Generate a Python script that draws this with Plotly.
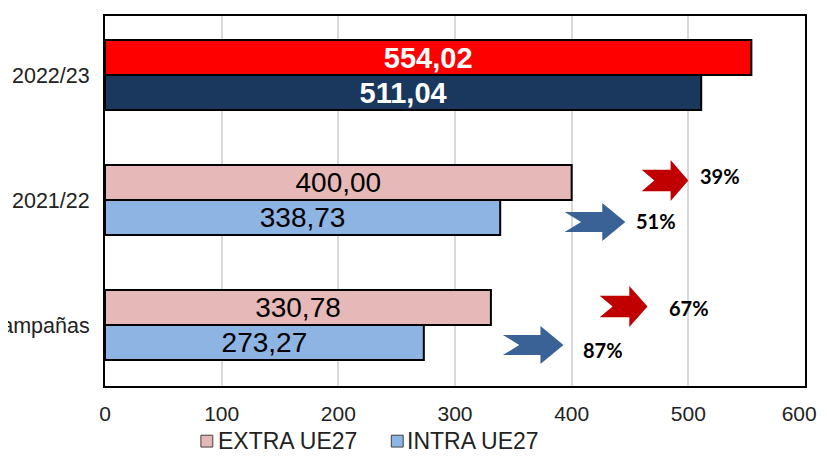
import plotly.graph_objects as go

# campaigns, bottom to top
campanas = ["Media 3 campañas", "2021/22", "2022/23"]
extra_ue27 = [330.78, 400.00, 554.02]
intra_ue27 = [273.27, 338.73, 511.04]
x_ticks = [0, 100, 200, 300, 400, 500, 600]
series_names = ["EXTRA UE27", "INTRA UE27"]

extra_colors = ["#E6B9B8", "#E6B9B8", "#FF0000"]
intra_colors = ["#8EB4E3", "#8EB4E3", "#1A375E"]


def fmt(v, bold):
    s = f"{v:.2f}".replace(".", ",")
    return f"<b>{s}</b>" if bold else s


def label_list(vals):
    last = len(vals) - 1
    return [fmt(v, i == last) for i, v in enumerate(vals)]


# growth of the last campaign vs. the earlier ones
extra_growth = [round((extra_ue27[-1] / v - 1) * 100) for v in extra_ue27[:-1]]
intra_growth = [round((intra_ue27[-1] / v - 1) * 100) for v in intra_ue27[:-1]]

yidx = list(range(len(campanas)))
text_colors = ["black", "black", "white"]
text_sizes = [28, 28, 29]

fig = go.Figure()
fig.add_trace(go.Bar(
    y=yidx, x=intra_ue27, orientation="h", name=series_names[1],
    marker=dict(color=intra_colors, line=dict(color="black", width=2)),
    text=label_list(intra_ue27), textposition="inside", insidetextanchor="middle",
    textfont=dict(color=text_colors, size=text_sizes, family="Liberation Sans, Arial"),
    constraintext="none",
))
fig.add_trace(go.Bar(
    y=yidx, x=extra_ue27, orientation="h", name=series_names[0],
    marker=dict(color=extra_colors, line=dict(color="black", width=2)),
    text=label_list(extra_ue27), textposition="inside", insidetextanchor="middle",
    textfont=dict(color=text_colors, size=text_sizes, family="Liberation Sans, Arial"),
    constraintext="none",
))


def arrow(x0, x1, yc, half, color):
    # notched block arrow pointing right
    L = x1 - x0
    head = 0.38 * L
    notch = 0.27 * L
    shaft = half * 0.53
    pts = [
        (x0, yc + shaft), (x1 - head, yc + shaft), (x1 - head, yc + half),
        (x1, yc), (x1 - head, yc - half), (x1 - head, yc - shaft),
        (x0, yc - shaft), (x0 + notch, yc),
    ]
    path = "M " + " L ".join(f"{a},{b}" for a, b in pts) + " Z"
    fig.add_shape(type="path", path=path, xref="x", yref="y",
                  fillcolor=color, line=dict(width=0), layer="above")


RED = "#C00000"
BLUE = "#3A6296"
# 2021/22
arrow(460, 500, 1.156, 0.164, RED)
arrow(394, 446, 0.824, 0.152, BLUE)
# media
arrow(424, 465, 0.148, 0.164, RED)
arrow(341, 393, -0.16, 0.152, BLUE)

pct_font = dict(family="Lato, Open Sans, sans-serif", size=20, color="black")
for xpos, ypos, g in [(508, 1.192, extra_growth[1]), (453, 0.832, intra_growth[1]),
                      (482, 0.136, extra_growth[0]), (408, -0.2, intra_growth[0])]:
    fig.add_annotation(x=xpos, y=ypos, text=f"<b>{g}%</b>", showarrow=False,
                       xanchor="left", yanchor="middle", font=pct_font)

# legend drawn by hand below the axis (a plotly legend would push the margin)
for (sx0, sx1, tx), name, col in zip([(0.137, 0.154, 0.158), (0.409, 0.426, 0.429)],
                                     series_names, ["#E6B9B8", "#8EB4E3"]):
    fig.add_shape(type="rect", xref="paper", yref="paper", x0=sx0, x1=sx1,
                  y0=-0.165, y1=-0.133, fillcolor=col, line=dict(color="#404040", width=1))
    fig.add_annotation(xref="paper", yref="paper", x=tx, y=-0.149, text=name,
                       showarrow=False, xanchor="left", yanchor="middle",
                       font=dict(size=23, color="#222222"))

# pale background wedge bottom-left
fig.add_shape(type="path", xref="paper", yref="paper",
              path="M -0.15,-0.084 L -0.142,-0.181 L -0.15,-0.181 Z",
              fillcolor="#FFF0C0", line=dict(width=0), layer="below")

# page body adds an 8px margin, keep the figure small enough to avoid scrollbars
fig.update_layout(
    width=819, height=445,
    margin=dict(l=97, r=22, t=8, b=67),
    barmode="group", bargap=0.44, bargroupgap=0,
    plot_bgcolor="white", paper_bgcolor="white",
    font=dict(family="Liberation Sans, Arial", size=21, color="#222222"),
    showlegend=False,
)
# last tick label nudged left so it stays inside the page
x_text = [str(t) for t in x_ticks]
x_text[-1] = x_text[-1] + "\u00a0\u00a0"
fig.update_xaxes(range=[0, 600], tickvals=x_ticks, ticktext=x_text, showgrid=True,
                 gridcolor="#D9D9D9", gridwidth=1.5, showline=True, linecolor="black",
                 linewidth=2, mirror=True, zeroline=False, ticks="", automargin=False,
                 ticklabelstandoff=8, tickfont=dict(size=21), ticklabeloverflow="allow")
fig.update_yaxes(range=[-0.488, 2.472], tickvals=yidx, ticktext=campanas, showgrid=False,
                 showline=True, linecolor="black", linewidth=2, mirror=True,
                 zeroline=False, ticks="", automargin=False, ticklabelstandoff=9,
                 tickfont=dict(size=21.5))

fig.write_html("out.html")
